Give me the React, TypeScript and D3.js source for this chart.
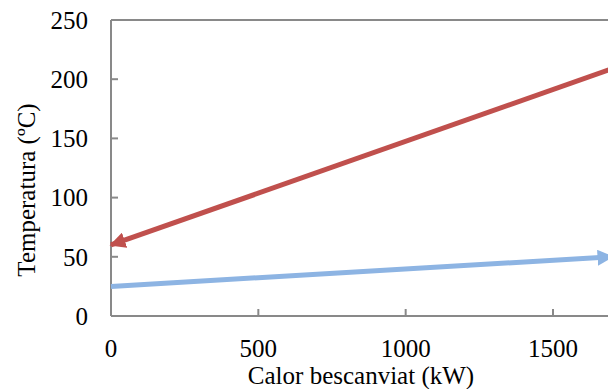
import React from "react";
import * as d3 from "d3";

const xTicks = [0, 500, 1000, 1500];
const yTicks = [0, 50, 100, 150, 200, 250];
const hotStream: [number, number][] = [[2000, 235], [0, 60]];
const coldStream: [number, number][] = [[0, 25], [1700, 50]];
const xTitle = "Calor bescanviat (kW)";
const yTitle = "Temperatura (ºC)";

const W = 608, H = 389;
const left = 111, top = 20, bottom = 316;

export default function App() {
  const x = d3.scaleLinear().domain([0, 2000]).range([left, left + 2000 * (442 / 1500)]);
  const y = d3.scaleLinear().domain([0, 250]).range([bottom, top]);
  const line = d3.line<[number, number]>().x(d => x(d[0])).y(d => y(d[1]));
  const font = "'Liberation Serif', 'Times New Roman', serif";
  const axisColor = "#898989";
  return (
    <svg width={W} height={H} style={{ position: "absolute", left: 0, top: 0, overflow: "hidden" }}>
      <defs>
        <marker id="arRed" viewBox="0 0 10 10" refX="9" refY="5" markerWidth="3.2" markerHeight="3.2" orient="auto" markerUnits="strokeWidth">
          <path d="M0,0 L10,5 L0,10 z" fill="#C0504D" />
        </marker>
        <marker id="arBlue" viewBox="0 0 10 10" refX="9" refY="5" markerWidth="3.2" markerHeight="3.2" orient="auto" markerUnits="strokeWidth">
          <path d="M0,0 L10,5 L0,10 z" fill="#8DB4E3" />
        </marker>
      </defs>
      <rect x={0} y={0} width={W} height={H} fill="#fff" />
      <line x1={left} x2={x(2000)} y1={top} y2={top} stroke={axisColor} strokeWidth={2} />
      <line x1={left} x2={left} y1={top} y2={bottom} stroke={axisColor} strokeWidth={2} />
      <line x1={left} x2={x(2000)} y1={bottom} y2={bottom} stroke={axisColor} strokeWidth={2} />
      {yTicks.map(t => (
        <g key={"y" + t}>
          <line x1={left} x2={left + 7} y1={y(t)} y2={y(t)} stroke={axisColor} strokeWidth={2} />
          <text x={88} y={y(t)} dy="0.35em" textAnchor="end" fontFamily={font} fontSize={25} fill="#000">{t}</text>
        </g>
      ))}
      {xTicks.map(t => (
        <g key={"x" + t}>
          <line x1={x(t)} x2={x(t)} y1={bottom} y2={bottom - 7} stroke={axisColor} strokeWidth={2} />
          <text x={x(t)} y={357} textAnchor="middle" fontFamily={font} fontSize={25} fill="#000">{t}</text>
        </g>
      ))}
      <path d={line(coldStream) || ""} stroke="#8DB4E3" strokeWidth={5} fill="none" markerEnd="url(#arBlue)" />
      <path d={line(hotStream) || ""} stroke="#C0504D" strokeWidth={5} fill="none" markerEnd="url(#arRed)" />
      <text x={361} y={384} textAnchor="middle" fontFamily={font} fontSize={25} fill="#000">{xTitle}</text>
      <text transform={`translate(35, ${(top + bottom) / 2 + 22}) rotate(-90)`} textAnchor="middle" fontFamily={font} fontSize={25} fill="#000">{yTitle}</text>
    </svg>
  );
}
